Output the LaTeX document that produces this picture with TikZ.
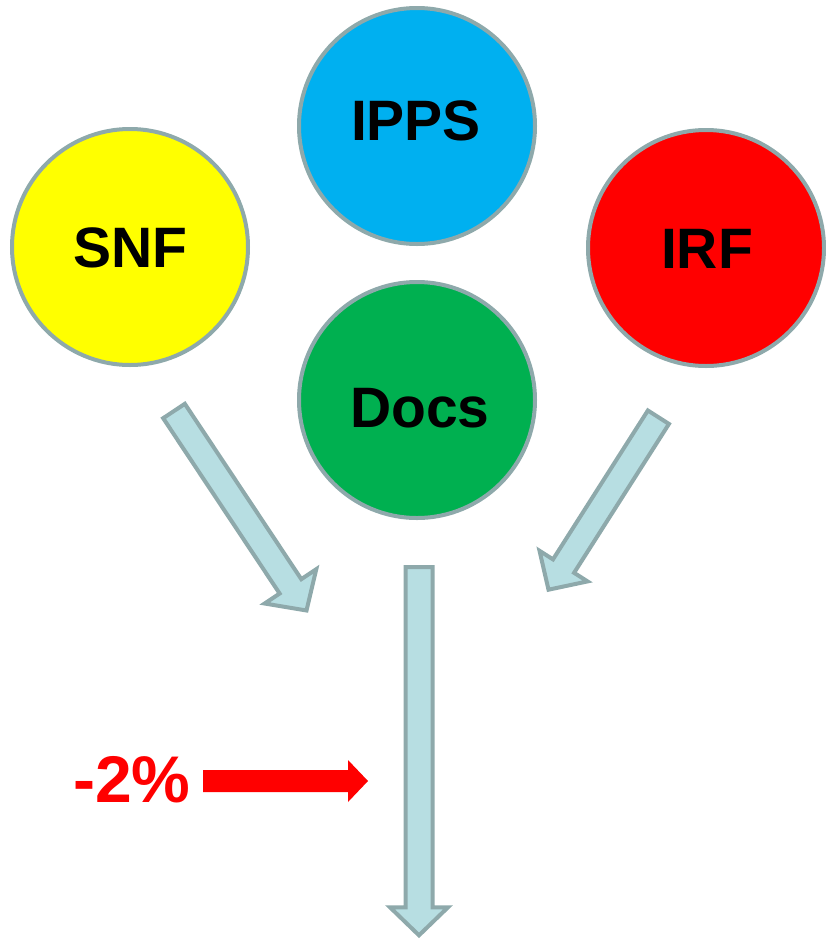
\documentclass[tikz,border=0pt]{standalone}
\usepackage{fontspec}
\setmainfont{Liberation Sans}
\usetikzlibrary{calc}
\definecolor{rim}{HTML}{8EA9AB}
\definecolor{paleaqua}{HTML}{B7DEE2}
\definecolor{cyellow}{HTML}{FFFF00}
\definecolor{cblue}{HTML}{00B0F0}
\definecolor{cred}{HTML}{FF0000}
\definecolor{cgreen}{HTML}{00B050}
% block arrow: #1 style, #2 tail, #3 tip, #4 shaft half width, #5 head half width, #6 head length
\newcommand\blockarrow[6]{%
  \coordinate (hb) at ($(#3)!#6!(#2)$);
  \path[#1] ($(#2)!#4!90:(#3)$) -- ($(hb)!#4!-90:(#2)$) -- ($(hb)!#5!-90:(#2)$) -- (#3)
    -- ($(hb)!#5!90:(#2)$) -- ($(hb)!#4!90:(#2)$) -- ($(#2)!#4!-90:(#3)$) -- cycle;
}
\begin{document}
\begin{tikzpicture}[x=1pt,y=-1pt,
  bubble/.style={circle, draw=rim, line width=4pt, minimum size=236pt, inner sep=0pt},
  tag/.style={anchor=base, font=\fontsize{57}{60}\selectfont\bfseries, text=black, inner sep=0pt},
  fatarrow/.style={draw=rim, fill=paleaqua, line width=4pt, line join=miter, miter limit=10},
  redarrow/.style={fill=cred, draw=none}]
\useasboundingbox (0,0) rectangle (826,940);
% circles
\node[bubble, fill=cyellow] (snf) at (130,247) {};
\node[bubble, fill=cblue] (ipps) at (417,126) {};
\node[bubble, fill=cred] (irf) at (706,248) {};
\node[bubble, fill=cgreen] (docs) at (417,400) {};
% labels
\node[tag] (snft) at (130.5,267) {SNF};
\node[tag] (ippst) at (416,140) {IPPS};
\node[tag] (irft) at (707,268) {IRF};
\node[tag] (docst) at (420,427) {Docs};
% block arrows
\coordinate (la) at (174,411);
\coordinate (lb) at (306.5,610.5);
\coordinate (ra) at (658.4,417.2);
\coordinate (rb) at (548.5,589.7);
\coordinate (ma) at (419,567);
\coordinate (mb) at (419,935.3);
\blockarrow{fatarrow}{la}{lb}{13pt}{31pt}{29pt}
\blockarrow{fatarrow}{ra}{rb}{12.5pt}{28.5pt}{28pt}
\blockarrow{fatarrow}{ma}{mb}{13.5pt}{29pt}{28pt}
% red arrow and percentage
\node[anchor=base, font=\fontsize{66}{70}\selectfont\bfseries, text=cred, inner sep=0pt] (pct) at (132,802) {-2\%};
\coordinate (pa) at (203,781);
\coordinate (pb) at (368,781);
\blockarrow{redarrow}{pa}{pb}{11pt}{21pt}{20pt}
\end{tikzpicture}
\end{document}
